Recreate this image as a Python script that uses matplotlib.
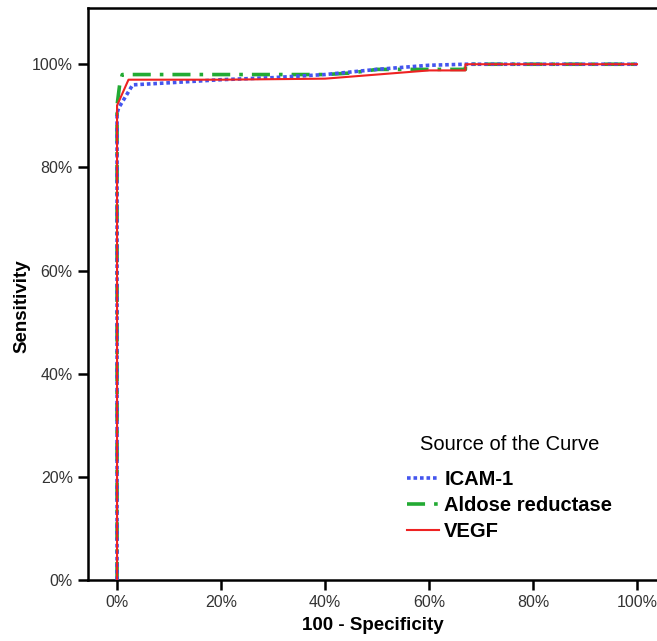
import numpy as np
import matplotlib
matplotlib.use("Agg")
import matplotlib.pyplot as plt

# ROC curves, values (percent)
icam_x = [0, 0, 0.3, 3, 10, 20, 30, 40, 50, 60, 67, 100]
icam_y = [0, 90.5, 91.5, 96, 96.4, 97, 97.4, 98, 99, 99.8, 100, 100]

aldose_x = [0, 0, 0.5, 1, 20, 40, 45, 50, 60, 67, 67, 100]
aldose_y = [0, 92, 96, 98, 98, 98, 98.3, 99, 99, 99, 100, 100]

vegf_x = [0, 0, 2.2, 20, 40, 50, 60, 67, 67, 100]
vegf_y = [0, 92, 97, 97, 97.2, 98, 98.8, 98.8, 100, 100]

xticks = [0, 20, 40, 60, 80, 100]
yticks = [0, 20, 40, 60, 80, 100]

plt.rcParams['font.family'] = ['Liberation Sans', 'DejaVu Sans']

fig = plt.figure(figsize=(6.57, 6.41), dpi=100)
ax = fig.add_axes([0.134, 0.0952, 0.866, 0.8923])

ax.plot(icam_x, icam_y, color='#4455ee', linestyle=(0, (1, 0.8)), lw=2.6, label='ICAM-1', zorder=3)
ax.plot(aldose_x, aldose_y, color='#22aa33', linestyle=(0, (5, 2.5, 1, 2.5)), lw=2.6, label='Aldose reductase', zorder=2)
ax.plot(vegf_x, vegf_y, color='#ee2222', linestyle='-', lw=1.5, label='VEGF', zorder=4)

ax.set_xlim(-5.58, 103.85)
ax.set_ylim(0, 110.9)
ax.set_xticks(xticks)
ax.set_yticks(yticks)
ax.set_xticklabels([f'{t}%' for t in xticks], fontsize=11.5, color='#333333')
ax.set_yticklabels([f'{t}%' for t in yticks], fontsize=11.5, color='#333333')
ax.tick_params(direction='out', length=7, width=1.8, pad=4)

for s in ['left', 'bottom', 'top']:
    ax.spines[s].set_linewidth(1.8)
ax.spines['right'].set_visible(False)

ax.set_xlabel('100 - Specificity', fontsize=13.5, fontweight='bold', labelpad=5)
ax.set_ylabel('Sensitivity', fontsize=13.5, fontweight='bold')
ax.yaxis.set_label_coords(-0.102, 0.479)

leg = ax.legend(loc='lower left', bbox_to_anchor=(0.592, 0.127), bbox_transform=fig.transFigure,
                frameon=False, title='Source of the Curve', handlelength=1.6,
                handletextpad=0.25, labelspacing=0.35,
                prop={'size': 14.5, 'weight': 'bold'}, title_fontsize=14.5)
leg._legend_box.sep = 12

fig.savefig('out.png', dpi=100)
